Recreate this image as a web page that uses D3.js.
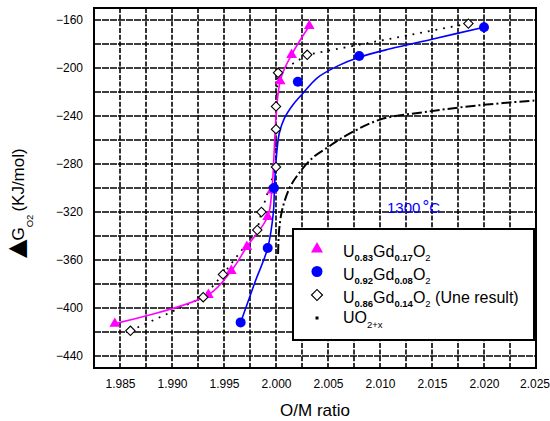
<!DOCTYPE html>
<html>
<head>
<meta charset="utf-8">
<script src="https://cdn.jsdelivr.net/npm/d3@7"></script>
<style>
  body { margin: 0; background: #fff; }
  text { font-family: Arial, "Liberation Sans", sans-serif; }
</style>
</head>
<body>
<svg id="chart" width="550" height="421"></svg>
<script>
// O/M ratio vs oxygen potential, 1300 C
const xTickVals = [1.985, 1.990, 1.995, 2.000, 2.005, 2.010, 2.015, 2.020, 2.025];
const yTickVals = [-440, -400, -360, -320, -280, -240, -200, -160];

// U0.83Gd0.17O2 (triangles, line through them)
const gd17 = [
  [1.9845, -413], [1.9935, -389], [1.9957, -369], [1.9972, -349], [1.9992, -324],
  [1.9996, -302], [2.0004, -211], [2.0015, -189], [2.0032, -165]
];
// U0.92Gd0.08O2 (circles) and its fitted curve
const gd08 = [
  [1.9966, -412], [1.9992, -350], [1.9998, -300], [2.0021, -211.5], [2.0080, -190], [2.0200, -166]
];
const gd08Fit = [
  [1.9966, -412], [1.9980, -378], [1.9992, -350], [1.99975, -320], [1.99985, -300],
  [2.0000, -278], [2.0003, -255], [2.0008, -242], [2.0016, -231], [2.0026, -221],
  [2.0040, -208], [2.0060, -198], [2.0080, -191], [2.0110, -184], [2.0150, -176], [2.0200, -166]
];
// U0.86Gd0.14O2 (Une result), diamonds joined by dots
const gd14 = [
  [1.9860, -419], [1.9930, -391], [1.9949, -372], [1.9982, -335], [1.9986, -320],
  [2.0000, -282.5], [2.0000, -251], [2.0000, -232], [2.0002, -204], [2.0030, -189], [2.0185, -163]
];
// UO2+x, dash-dot curve
const uo2 = [
  [2.0002, -355], [2.0003, -335], [2.0006, -318], [2.0013, -300], [2.0021, -289],
  [2.0035, -275], [2.0050, -266], [2.0062, -259], [2.0100, -243], [2.0145, -236.5],
  [2.0196, -231], [2.0250, -227]
];

const svg = d3.select("#chart");
const margin = { top: 8, right: 14, bottom: 53, left: 94 };
const W = 550, H = 421;

const x = d3.scaleLinear().domain([1.9825, 2.025]).range([margin.left, W - margin.right]);
const y = d3.scaleLinear().domain([-450, -150]).range([H - margin.bottom, margin.top]);

// grid
const xGrid = d3.range(1, 17).map(i => 1.9825 + i * 0.0025);
const yGrid = d3.range(0, 15).map(i => -440 + i * 20);

svg.append("g")
  .selectAll("line")
  .data(yGrid)
  .join("line")
  .attr("x1", x.range()[0]).attr("x2", x.range()[1])
  .attr("y1", d => y(d)).attr("y2", d => y(d))
  .attr("stroke", "#000").attr("stroke-width", 1.6)
  .attr("stroke-dasharray", "7,1");

svg.append("g")
  .selectAll("line")
  .data(xGrid)
  .join("line")
  .attr("x1", d => x(d)).attr("x2", d => x(d))
  .attr("y1", y.range()[0]).attr("y2", y.range()[1])
  .attr("stroke", "#000").attr("stroke-width", 1.6)
  .attr("stroke-dasharray", "5,1.7");

// axes (labels only)
const xAxis = svg.append("g")
  .attr("transform", `translate(0,${H - margin.bottom + 8.5})`)
  .call(d3.axisBottom(x).tickValues(xTickVals).tickFormat(d3.format(".3f")).tickSize(0));
xAxis.select(".domain").remove();
xAxis.selectAll("text").attr("font-size", 12).attr("fill", "#000")
  .attr("font-family", "Arial, 'Liberation Sans', sans-serif");
// last label sits at the window edge: keep it inside
xAxis.selectAll("text").filter(d => d === 2.025)
  .attr("text-anchor", "end").attr("x", 13.5);

const yAxis = svg.append("g")
  .attr("transform", `translate(${margin.left - 8},0)`)
  .call(d3.axisLeft(y).tickValues(yTickVals).tickSize(0));
yAxis.select(".domain").remove();
yAxis.selectAll("text").attr("font-size", 12).attr("fill", "#000")
  .attr("font-family", "Arial, 'Liberation Sans', sans-serif");

// curves
const smooth = d3.line().x(d => x(d[0])).y(d => y(d[1])).curve(d3.curveCatmullRom.alpha(0.5));
const straight = d3.line().x(d => x(d[0])).y(d => y(d[1]));

svg.append("path").datum(uo2).attr("d", smooth)
  .attr("fill", "none").attr("stroke", "#000").attr("stroke-width", 2)
  .attr("stroke-dasharray", "10,3,2,3");

svg.append("path").datum(gd14).attr("d", straight)
  .attr("fill", "none").attr("stroke", "#000").attr("stroke-width", 1.8)
  .attr("stroke-dasharray", "1.8,6");

svg.append("path").datum(gd17).attr("d", smooth)
  .attr("fill", "none").attr("stroke", "#ff00ff").attr("stroke-width", 1.6);

const tri = d3.symbol(d3.symbolTriangle, 50);
svg.append("g").selectAll("path").data(gd17).join("path")
  .attr("d", tri)
  .attr("transform", d => `translate(${x(d[0])},${y(d[1])})`)
  .attr("fill", "#ff00ff");

svg.append("path").datum(gd08Fit).attr("d", smooth)
  .attr("fill", "none").attr("stroke", "#0000ff").attr("stroke-width", 1.6);

svg.append("g").selectAll("circle").data(gd08).join("circle")
  .attr("cx", d => x(d[0])).attr("cy", d => y(d[1])).attr("r", 5)
  .attr("fill", "#0000ff");

const dia = d3.symbol(d3.symbolSquare, 44);
svg.append("g").selectAll("path").data(gd14).join("path")
  .attr("d", dia)
  .attr("transform", d => `translate(${x(d[0])},${y(d[1])}) rotate(45)`)
  .attr("fill", "#fff").attr("stroke", "#000").attr("stroke-width", 1.1);

// frame
svg.append("rect")
  .attr("x", margin.left).attr("y", margin.top)
  .attr("width", W - margin.left - margin.right).attr("height", H - margin.top - margin.bottom)
  .attr("fill", "none").attr("stroke", "#000").attr("stroke-width", 2);

// temperature label
const tl = svg.append("text")
  .attr("x", 387).attr("y", 213)
  .attr("font-size", 15).attr("fill", "#0000ff")
  .text("1300");
tl.append("tspan").attr("dx", 2).attr("font-size", 17).attr("dy", -1).text("°");
tl.append("tspan").attr("dy", 1).text("C");

// legend
const lg = svg.append("g");
lg.append("rect")
  .attr("x", 293).attr("y", 229).attr("width", 241).attr("height", 111)
  .attr("fill", "#fff").attr("stroke", "#000").attr("stroke-width", 2);

const legendRows = [
  { parts: [["U"], ["0.83", 1], ["Gd"], ["0.17", 1], ["O"], ["2", 2]], my: 248, ty: 256.5 },
  { parts: [["U"], ["0.92", 1], ["Gd"], ["0.08", 1], ["O"], ["2", 2]], my: 271.5, ty: 280 },
  { parts: [["U"], ["0.86", 1], ["Gd"], ["0.14", 1], ["O"], ["2", 2], [" (Une result)"]], my: 295, ty: 303 },
  { parts: [["UO"], ["2+x", 3]], my: 318, ty: 322.5 }
];

legendRows.forEach((row, i) => {
  const mx = 317;
  if (i === 0) {
    lg.append("path").attr("d", d3.symbol(d3.symbolTriangle, 62))
      .attr("transform", `translate(${mx},${row.my + 1})`).attr("fill", "#ff00ff");
  } else if (i === 1) {
    lg.append("circle").attr("cx", mx).attr("cy", row.my).attr("r", 5.5).attr("fill", "#0000ff");
  } else if (i === 2) {
    lg.append("path").attr("d", d3.symbol(d3.symbolSquare, 60))
      .attr("transform", `translate(${mx},${row.my}) rotate(45)`)
      .attr("fill", "#fff").attr("stroke", "#000").attr("stroke-width", 1.2);
  } else {
    lg.append("rect").attr("x", mx - 1.5).attr("y", row.my - 1.5)
      .attr("width", 3).attr("height", 3).attr("fill", "#000");
  }
  const t = lg.append("text").attr("x", 343).attr("y", row.ty).attr("font-size", 16).attr("fill", "#000");
  let shift = 0;
  row.parts.forEach(([s, kind]) => {
    const target = kind === 1 || kind === 2 ? 4 : kind === 3 ? 5 : 0;
    const sp = t.append("tspan").attr("dy", target - shift).text(s);
    shift = target;
    if (kind) sp.attr("font-size", 9.5);
    if (kind === 1) sp.attr("font-weight", "bold");
  });
});

// axis titles
svg.append("text")
  .attr("x", 315).attr("y", 416)
  .attr("text-anchor", "middle").attr("font-size", 17)
  .text("O/M ratio");

const yt = svg.append("text")
  .attr("transform", "translate(24,258) rotate(-90)")
  .attr("font-size", 17);
yt.append("tspan").attr("font-family", "'DejaVu Sans', sans-serif").attr("font-size", 24).text("▲");
yt.append("tspan").attr("dx", -1).text("G");
yt.append("tspan").attr("dy", 9).attr("font-size", 9.5).text("O2");
yt.append("tspan").attr("dy", -9).attr("dx", 3).text("(KJ/mol)");
</script>
</body>
</html>
